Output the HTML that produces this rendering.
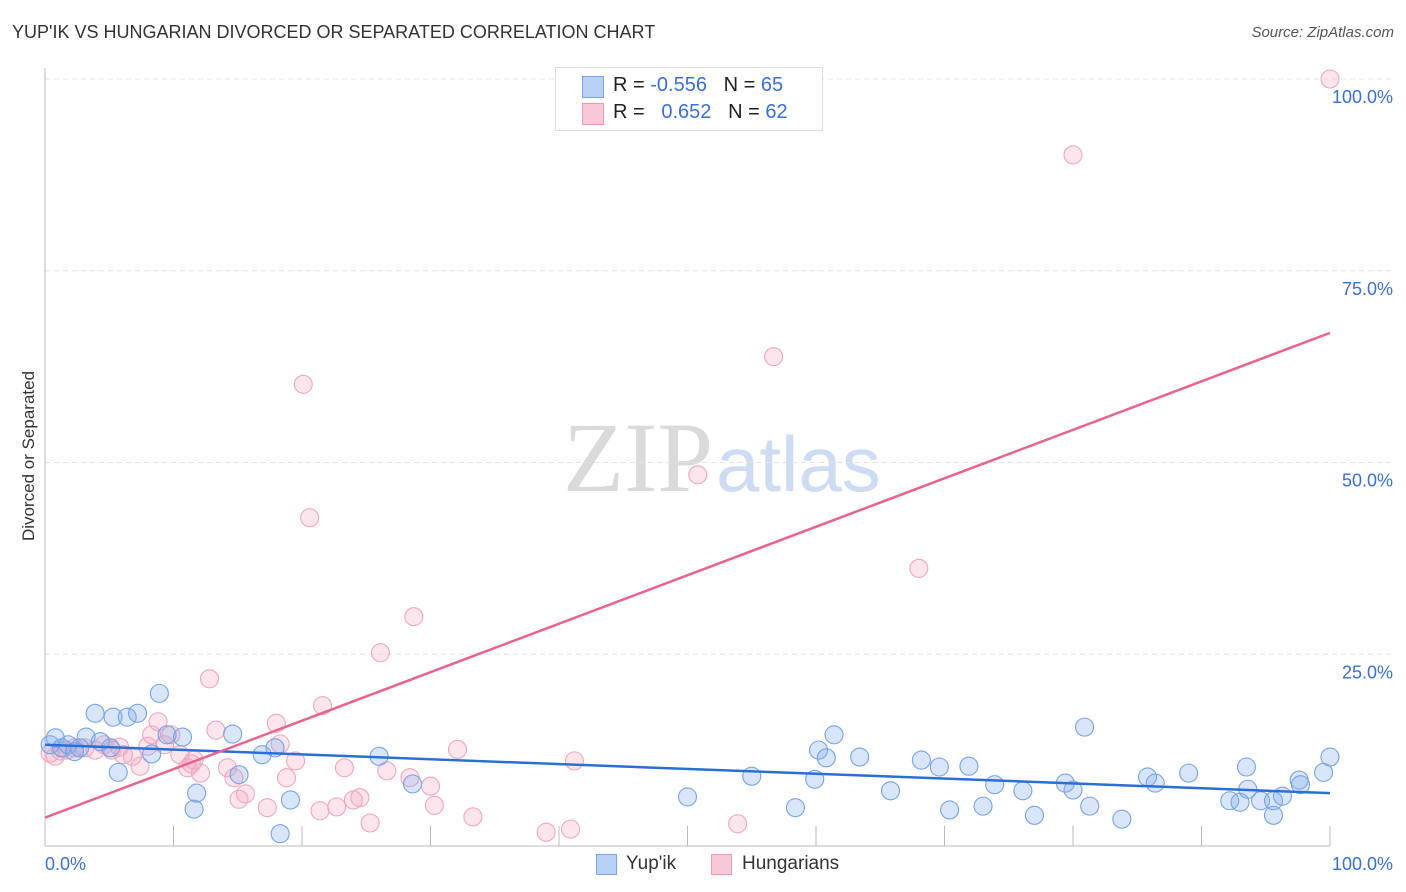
<!DOCTYPE html>
<html><head><meta charset="utf-8">
<style>
body{margin:0;background:#fff;font-family:"Liberation Sans",sans-serif;}
#wrap{position:relative;width:1406px;height:892px;overflow:hidden;}
.t{position:absolute;white-space:nowrap;}
</style></head><body>
<div id="wrap">
<div class="t" style="left:12px;top:22px;font-size:18px;color:#333;">YUP'IK VS HUNGARIAN DIVORCED OR SEPARATED CORRELATION CHART</div>
<div class="t" style="right:12px;top:24px;font-size:15px;color:#555;font-style:italic;">Source: ZipAtlas.com</div>
<svg id="plot" width="1406" height="892" style="position:absolute;left:0;top:0">
<text x="713" y="491" text-anchor="end" font-family="Liberation Serif,serif" font-size="100" fill="#dadada">ZIP</text>
<text x="716" y="491" font-family="Liberation Sans,sans-serif" font-size="78" fill="#cddcf2">atlas</text>
<text transform="translate(34,456) rotate(-90)" text-anchor="middle" font-size="17" fill="#333">Divorced or Separated</text>
</svg>
<div style="position:absolute;left:555px;top:67px;width:266px;height:62px;border:1px solid #ddd;background:#fff;">
<div style="position:absolute;left:26px;top:8px;width:20px;height:20px;background:#b8d1f5;border:1px solid #7aa6e6;"></div>
<div class="t" style="left:57px;top:6px;font-size:20px;color:#222;">R = <span style="color:#3a6fd8">-0.556</span>&nbsp;&nbsp;&nbsp;N = <span style="color:#3a6fd8">65</span></div>
<div style="position:absolute;left:26px;top:35px;width:20px;height:20px;background:#f9c8d6;border:1px solid #ec9cb6;"></div>
<div class="t" style="left:57px;top:33px;font-size:20px;color:#222;">R = &nbsp;&nbsp;<span style="color:#3a6fd8">0.652</span>&nbsp;&nbsp;&nbsp;N = <span style="color:#3a6fd8">62</span></div>
</div>
<div style="position:absolute;left:596px;top:854px;width:19px;height:19px;background:#b8d1f5;border:1px solid #7aa6e6;"></div>
<div class="t" style="left:626px;top:853px;font-size:19px;color:#333;">Yup'ik</div>
<div style="position:absolute;left:711px;top:854px;width:19px;height:19px;background:#f9c8d6;border:1px solid #ec9cb6;"></div>
<div class="t" style="left:742px;top:853px;font-size:19px;color:#333;">Hungarians</div>
</div>
<script>
const blueX=[0.4,0.8,1.3,1.8,2.3,2.7,3.2,3.9,4.3,5.1,5.3,5.7,6.4,7.2,8.3,8.9,9.5,10.7,11.6,11.8,14.6,15.1,16.9,17.9,18.3,19.1,26.0,28.6,50.0,55.0,58.4,59.9,60.2,60.8,61.4,63.4,65.8,68.2,69.6,70.4,71.9,73.0,73.9,76.1,77.0,79.4,80.0,80.9,81.3,83.8,85.8,86.4,89.0,92.2,93.0,93.5,93.6,94.6,95.6,95.6,96.3,97.6,97.7,99.5,100];
const blueY=[13.2,14.1,12.8,13.2,12.3,12.8,14.2,17.3,13.6,12.8,16.8,9.6,16.8,17.3,12.0,19.9,14.5,14.2,4.8,6.9,14.6,9.3,11.9,12.8,1.6,6.0,11.7,8.1,6.4,9.1,5.0,8.7,12.5,11.5,14.5,11.6,7.2,11.2,10.3,4.7,10.4,5.2,8.0,7.2,4.0,8.2,7.3,15.5,5.2,3.5,9.0,8.2,9.5,5.9,5.7,10.3,7.4,5.9,4.0,5.9,6.5,8.6,8.0,9.6,11.6];
const pinkX=[0.4,0.8,1.2,1.7,2.3,3.1,3.9,4.6,5.2,5.8,6.1,6.8,7.4,8.0,8.3,8.8,9.3,9.8,10.5,11.1,11.4,11.6,12.1,12.8,13.3,14.2,14.7,15.1,15.6,17.3,18.0,18.3,18.8,19.5,20.1,20.6,21.4,21.6,22.7,23.3,24.0,24.5,25.3,26.1,26.6,28.4,28.7,30.0,30.3,32.1,33.3,39.0,40.9,41.2,50.8,53.9,56.7,68.0,80.0,100];
const pinkY=[12.1,11.7,12.4,12.5,12.8,12.8,12.5,13.2,12.5,12.9,11.9,11.7,10.4,13.0,14.5,16.2,13.2,14.5,11.9,10.2,10.7,11.2,9.5,21.8,15.1,10.2,8.9,6.1,6.8,5.0,16.0,13.3,8.9,11.1,60.2,42.8,4.6,18.3,5.1,10.2,6.0,6.3,3.0,25.2,9.8,8.9,29.9,7.8,5.3,12.6,3.8,1.8,2.2,11.1,48.4,2.9,63.8,36.2,90.1,100];
const blueLine=[13.2,6.9];
const pinkLine=[3.7,66.9];
const yTicks=[25,50,75,100];
const yTickLabels=["25.0%","50.0%","75.0%","100.0%"];
const xTicks=[0,10,20,30,40,50,60,70,80,90,100];
const xTickLabels=["0.0%","100.0%"];

const svg=document.getElementById('plot');
const NS='http://www.w3.org/2000/svg';
const X0=45,X1=1330,Y0=846,Y1=79;
const sx=v=>X0+(X1-X0)*v/100;
const sy=v=>Y0+(Y1-Y0)*v/100;
function mk(tag,attrs){const e=document.createElementNS(NS,tag);for(const k in attrs)e.setAttribute(k,attrs[k]);svg.appendChild(e);return e;}
yTicks.forEach((t,i)=>{
 const g=mk('line',{x1:X0,x2:1395,y1:sy(t),y2:sy(t),stroke:'#e4e4e4','stroke-dasharray':'5,4'});
 
 
 const l=mk('text',{x:1393,y:sy(t)+24,'text-anchor':'end','font-size':18,fill:'#3a6fd8'});
 l.textContent=yTickLabels[i];
 
 
});
const ax=mk('line',{x1:X0,x2:X0,y1:68,y2:Y0,stroke:'#bbb'});


const bx=mk('line',{x1:X0,x2:X1,y1:Y0,y2:Y0,stroke:'#bbb'});


xTicks.forEach(t=>{
 const k=mk('line',{x1:sx(t),x2:sx(t),y1:Y0-20,y2:Y0,stroke:'#bbb'});
 
 
});
const xl0=mk('text',{x:45,y:870,'font-size':18,fill:'#3a6fd8'});xl0.textContent=xTickLabels[0];


const xl1=mk('text',{x:1393,y:870,'text-anchor':'end','font-size':18,fill:'#3a6fd8'});xl1.textContent=xTickLabels[1];


function pts(xs,ys,fill,stroke,name){xs.forEach((x,i)=>{
 const c=mk('circle',{cx:sx(x),cy:sy(ys[i]),r:9,fill:fill,stroke:stroke,'stroke-width':1.1});
 
 
});}
pts(pinkX,pinkY,'rgba(246,170,196,0.3)','#efa6be','hungarians-point');
pts(blueX,blueY,'rgba(130,172,236,0.3)','#77a3e3','yupik-point');
const bl=mk('line',{x1:sx(0),y1:sy(blueLine[0]),x2:sx(100),y2:sy(blueLine[1]),stroke:'#2a6fd6','stroke-width':2.5});


const pl=mk('line',{x1:sx(0),y1:sy(pinkLine[0]),x2:sx(100),y2:sy(pinkLine[1]),stroke:'#e8638f','stroke-width':2.5});


</script>
</body></html>
